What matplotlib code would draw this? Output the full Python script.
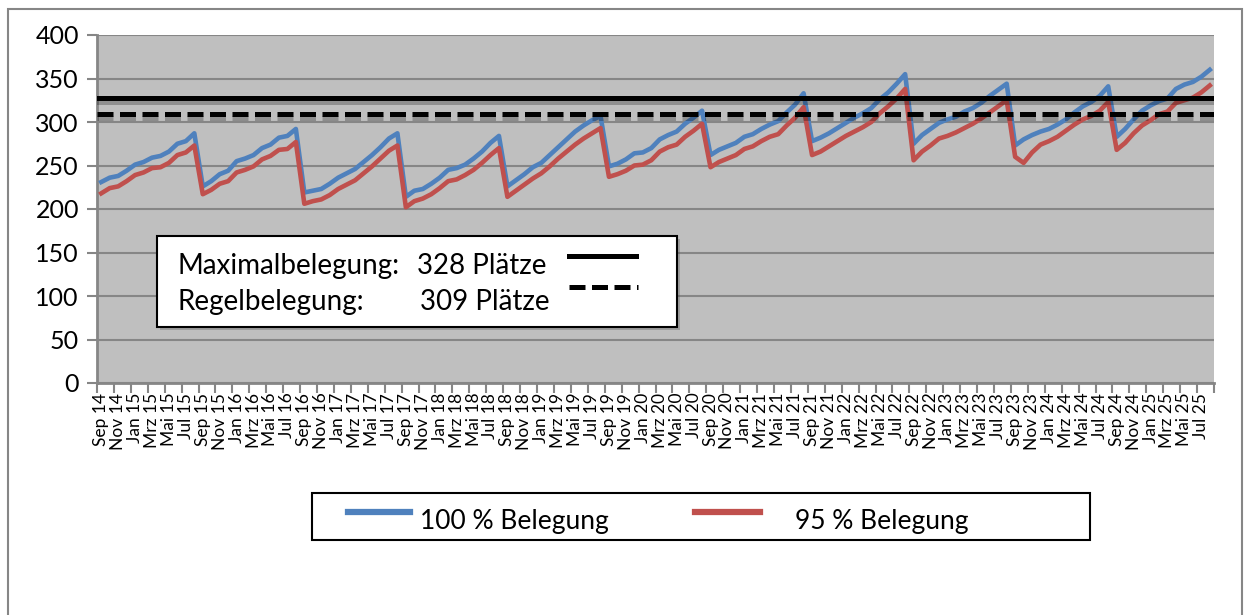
import matplotlib
matplotlib.use("Agg")
import matplotlib.pyplot as plt
import matplotlib.patheffects as pe
from matplotlib.lines import Line2D
from matplotlib.patches import Rectangle

plt.rcParams["font.family"] = ["Lato", "DejaVu Sans"]

# Monatsachse Sep 14 .. Aug 25 (Schuljahre)
MONATE = ["Jan", "Feb", "Mrz", "Apr", "Mai", "Jun", "Jul", "Aug", "Sep", "Okt", "Nov", "Dez"]
monate = []
for jahr in range(14, 26):
    for m, name in enumerate(MONATE):
        if (jahr == 14 and m < 8) or (jahr == 25 and m > 7):
            continue
        monate.append(f"{name} {jahr}")

# Schülerzahlen je Monat, eine Zeile pro Schuljahr (Sep..Aug)
belegung_100 = [
    231, 236, 238, 244, 251, 254, 259, 261, 266, 275, 278, 287,
    226, 232, 240, 244, 255, 258, 262, 270, 274, 282, 284, 292,
    219, 221, 223, 229, 236, 241, 246, 254, 262, 271, 281, 287,
    214, 221, 223, 229, 236, 245, 247, 251, 258, 266, 276, 284,
    226, 233, 240, 248, 253, 262, 271, 280, 289, 296, 302, 307,
    249, 252, 257, 264, 265, 270, 280, 285, 289, 298, 305, 313,
    262, 268, 272, 276, 283, 286, 292, 297, 301, 311, 320, 333,
    278, 282, 287, 293, 299, 305, 310, 316, 326, 334, 344, 355,
    275, 285, 292, 299, 303, 306, 312, 316, 322, 330, 337, 344,
    273, 280, 285, 289, 292, 297, 303, 311, 318, 323, 330, 341,
    283, 292, 303, 313, 319, 324, 327, 338, 343, 346, 352, 360,
]
belegung_95 = [
    218, 224, 226, 232, 239, 242, 247, 248, 253, 262, 265, 273,
    217, 222, 229, 232, 242, 245, 249, 257, 261, 268, 269, 277,
    206, 209, 211, 216, 223, 228, 233, 241, 249, 258, 267, 273,
    202, 209, 212, 217, 224, 232, 234, 239, 245, 253, 262, 270,
    214, 221, 228, 235, 241, 249, 258, 266, 274, 281, 287, 293,
    237, 240, 244, 250, 251, 256, 266, 271, 274, 283, 290, 298,
    248, 254, 258, 262, 269, 272, 278, 283, 286, 296, 305, 317,
    262, 266, 272, 278, 284, 289, 294, 300, 310, 318, 327, 338,
    256, 266, 273, 281, 284, 288, 293, 298, 304, 311, 318, 325,
    260, 253, 265, 274, 278, 283, 290, 297, 303, 307, 313, 323,
    268, 276, 287, 296, 302, 309, 312, 322, 325, 328, 334, 342,
]
MAXIMAL = 328
REGEL = 309
serien = ["100 % Belegung", "95 % Belegung"]

BLAU = "#4F81BD"
ROT = "#C0504D"
GRAU = "#868686"

W, H = 1246, 615
fig = plt.figure(figsize=(W / 100, H / 100), dpi=100)


def fx(px):
    return px / W


def fy(py):
    return 1 - py / H


def linie(x0, x1, y, **kw):
    fig.add_artist(Line2D([fx(x0), fx(x1)], [fy(y), fy(y)],
                          transform=fig.transFigure, zorder=6, **kw))


# Rahmen um das Diagramm
fig.add_artist(Rectangle((fx(8), fy(640)), fx(1234), fy(9) - fy(640),
                         transform=fig.transFigure, fill=False,
                         edgecolor=GRAU, lw=1.5))

ax = fig.add_axes([fx(97), fy(383), fx(1214) - fx(97), fy(35) - fy(383)])
ax.set_facecolor("#BFBFBF")

x = list(range(len(monate)))
ax.plot(x, belegung_100, color=BLAU, lw=3.3, solid_joinstyle="round", zorder=3)
ax.plot(x, belegung_95, color=ROT, lw=3.3, solid_joinstyle="round", zorder=3)

schatten = [pe.SimpleLineShadow(offset=(0, -3), shadow_color="k", alpha=0.25),
            pe.Normal()]
ax.axhline(MAXIMAL, color="black", lw=3.6, zorder=4, path_effects=schatten)
ax.axhline(REGEL, color="black", lw=3.6, dashes=(3.2, 1.3), zorder=4,
           path_effects=schatten)

ax.set_ylim(0, 400)
ax.set_xlim(-0.5, len(monate) - 0.5)
ax.set_yticks(range(0, 401, 50))
ax.yaxis.grid(True, color=GRAU, lw=1.5)
ax.set_axisbelow(True)
ax.tick_params(axis="y", labelsize=18, length=7, width=1.5, color=GRAU, pad=6)

# Teilstriche zwischen den Kategorien, Beschriftung jeden zweiten Monat
ax.set_xticks([i - 0.5 for i in range(0, len(monate) + 1, 2)])
ax.set_xticklabels([])
ax.tick_params(axis="x", which="major", length=7, width=1.5, color=GRAU)
ax.set_xticks(x[::2], minor=True)
ax.set_xticklabels(monate[::2], minor=True, rotation=90, fontsize=12.5)
ax.tick_params(axis="x", which="minor", length=0, pad=7)

for side in ("top", "right"):
    ax.spines[side].set_visible(False)
for side in ("left", "bottom"):
    ax.spines[side].set_color(GRAU)
    ax.spines[side].set_linewidth(2)

# Kasten mit den Platzkapazitäten
box = Rectangle((fx(157), fy(327)), fx(520), fy(236) - fy(327),
                transform=fig.transFigure, facecolor="white",
                edgecolor="black", lw=1.5, zorder=5)
box.set_path_effects([pe.SimplePatchShadow(offset=(2, -2), alpha=0.3), pe.Normal()])
fig.add_artist(box)
fig.text(fx(177), fy(266), "Maximalbelegung:", fontsize=20, va="center", zorder=6)
fig.text(fx(417), fy(266), f"{MAXIMAL} Plätze", fontsize=20, va="center", zorder=6)
fig.text(fx(177), fy(302), "Regelbelegung:", fontsize=20, va="center", zorder=6)
fig.text(fx(420), fy(302), f"{REGEL} Plätze", fontsize=20, va="center", zorder=6)
linie(569, 636, 256, color="black", lw=3.6)
linie(569, 638, 287, color="black", lw=3.6, dashes=(3.2, 1.3))

# Legende unten
fig.add_artist(Rectangle((fx(312), fy(540)), fx(778), fy(493) - fy(540),
                         transform=fig.transFigure, facecolor="white",
                         edgecolor="black", lw=1.5, zorder=5))
linie(348, 410, 512, color=BLAU, lw=4.5)
linie(695, 760, 512, color=ROT, lw=4.5)
fig.text(fx(420), fy(522), serien[0], fontsize=19, va="center", zorder=6)
fig.text(fx(795), fy(522), serien[1], fontsize=19, va="center", zorder=6)

fig.savefig("out.png", dpi=100)
